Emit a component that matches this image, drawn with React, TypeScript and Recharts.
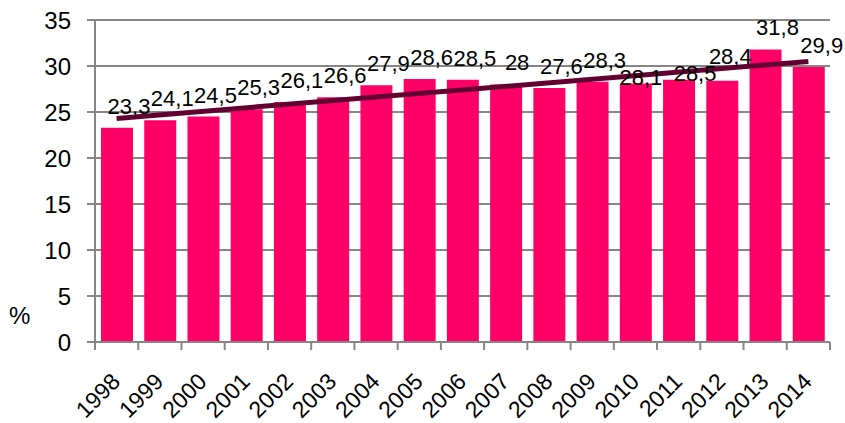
import { Bar, ComposedChart, Line, XAxis, YAxis, CartesianGrid, LabelList } from "recharts"

const years = ["1998", "1999", "2000", "2001", "2002", "2003", "2004", "2005", "2006", "2007", "2008", "2009", "2010", "2011", "2012", "2013", "2014"]
const shares = [23.3, 24.1, 24.5, 25.3, 26.1, 26.6, 27.9, 28.6, 28.5, 28, 27.6, 28.3, 28.1, 28.5, 28.4, 31.8, 29.9]
// trend line end points
const trend = [24.3, null, null, null, null, null, null, null, null, null, null, null, null, null, null, null, 30.5]
const yTicks = [0, 5, 10, 15, 20, 25, 30, 35]

// label nudges (px) so the numbers sit like in the original
const labelDx = [12, 12, 12, 12, 12, 12, 12, 12, 12, 11, 12, 12, 5, 16, 8, 12, 13]
const labelDy = [0, 0, 0, 0, 0, 0, 0, 0, 0, 0, 0, 0, 16, 15, -3, 0, 0]

const data = years.map((year, i) => ({ year, share: shares[i], trend: trend[i] }))

const W = 845
const H = 423
const M = { top: 20, right: 15, left: 0, bottom: 0 }
const Y_W = 95
const X_H = 81
const band = (W - M.left - M.right - Y_W) / years.length
const grey = "#868686"
const font = "'Liberation Sans', Arial, sans-serif"

function YearTick(props: any) {
  const { x, y, payload, index } = props
  const axisY = y - 8
  const tx = x + 5
  const ty = axisY + 41
  return (
    <g>
      <line x1={x - band / 2} y1={axisY} x2={x - band / 2} y2={axisY + 8} stroke={grey} strokeWidth={2} />
      {index === years.length - 1 && (
        <line x1={x + band / 2} y1={axisY} x2={x + band / 2} y2={axisY + 8} stroke={grey} strokeWidth={2} />
      )}
      <text
        x={tx}
        y={ty}
        textAnchor="end"
        transform={`rotate(-45, ${tx}, ${ty})`}
        fontSize={23}
        fontFamily={font}
        fill="#000"
      >
        {payload.value}
      </text>
    </g>
  )
}

function ValueLabel(props: any) {
  const { x, y, width, value, index } = props
  return (
    <text
      x={x + width / 2 + labelDx[index]}
      y={y - 14 + labelDy[index]}
      textAnchor="middle"
      fontSize={22}
      fontFamily={font}
      fill="#000"
    >
      {String(value).replace(".", ",")}
    </text>
  )
}

export default function App() {
  return (
    <div style={{ width: W, height: H }}>
      <style>{"body{margin:0}"}</style>
      <ComposedChart width={W} height={H} data={data} margin={M}>
        <CartesianGrid vertical={false} stroke={grey} strokeWidth={2} />
        <XAxis
          dataKey="year"
          height={X_H}
          tickLine={false}
          tickSize={8}
          tickMargin={0}
          interval={0}
          axisLine={{ stroke: grey, strokeWidth: 2 }}
          tick={<YearTick />}
        />
        <YAxis
          width={Y_W}
          domain={[0, 35]}
          ticks={yTicks}
          tickSize={8}
          tickMargin={16}
          interval={0}
          axisLine={{ stroke: grey, strokeWidth: 2 }}
          tickLine={{ stroke: grey, strokeWidth: 2 }}
          tick={{ fill: "#000", fontSize: 24, fontFamily: font }}
          label={{ value: "%", position: "insideLeft", offset: 9, dy: 134, fill: "#000", fontSize: 24, fontFamily: font }}
        />
        <Bar dataKey="share" fill="#FF0066" barSize={32} isAnimationActive={false}>
          <LabelList dataKey="share" content={<ValueLabel />} />
        </Bar>
        <Line
          dataKey="trend"
          stroke="#620032"
          strokeWidth={5}
          dot={false}
          connectNulls
          isAnimationActive={false}
        />
      </ComposedChart>
    </div>
  )
}
